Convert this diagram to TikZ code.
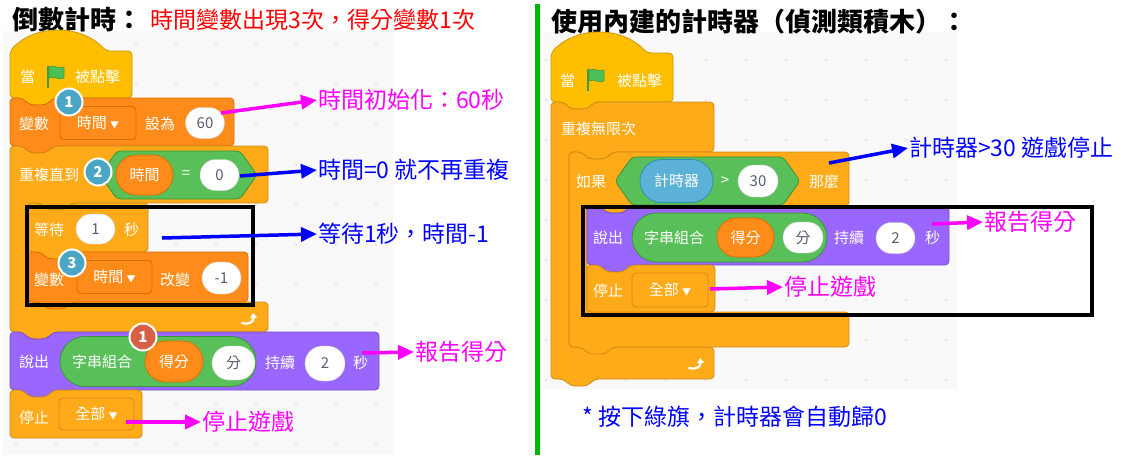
\documentclass[tikz,border=0pt]{standalone}
\usepackage{fontspec}
\setmainfont{Noto Sans CJK TC}
\usetikzlibrary{arrows.meta, shapes.misc, positioning}
\definecolor{evtfill}{HTML}{FFBF00}\definecolor{evtline}{HTML}{CC9900}
\definecolor{varfill}{HTML}{FF8C1A}\definecolor{varline}{HTML}{DB6E00}
\definecolor{ctlfill}{HTML}{FFAB19}\definecolor{ctlline}{HTML}{CF8B17}
\definecolor{lookfill}{HTML}{9966FF}\definecolor{lookline}{HTML}{774DCB}
\definecolor{oprfill}{HTML}{59C059}\definecolor{oprline}{HTML}{389438}
\definecolor{senfill}{HTML}{5CB1D6}\definecolor{senline}{HTML}{2E8EB8}
\definecolor{numtxt}{HTML}{575E75}
\definecolor{bgray}{HTML}{F9F9F9}
\definecolor{dotgray}{HTML}{DDDDDD}
\definecolor{badgeb}{HTML}{4AA6C4}\definecolor{badger}{HTML}{D65F45}
\definecolor{flagfill}{HTML}{4CBF56}\definecolor{flagline}{HTML}{45993D}
\definecolor{mag}{HTML}{FF00FF}\definecolor{blu}{HTML}{0000FF}
\definecolor{divgreen}{HTML}{00B800}
\newcommand\blkfont{\fontsize{15}{16}\selectfont}
\newcommand\annfont{\fontsize{23}{26}\selectfont}
\newcommand\tri{{\fontsize{9}{9}\selectfont ▼}}
% block outlines (x1, y1, x2, y2, style)
\newcommand\stk[5]{\draw[#5] (#1,#2) -- (#1+12,#2) -- (#1+20,#2+7) -- (#1+36,#2+7) -- (#1+44,#2) -- (#3,#2) -- (#3,#4) -- (#1+44,#4) -- (#1+36,#4+7) -- (#1+20,#4+7) -- (#1+12,#4) -- (#1,#4) -- cycle;}
\newcommand\capblk[5]{\draw[#5] (#1,#2) -- (#1+12,#2) -- (#1+20,#2+7) -- (#1+36,#2+7) -- (#1+44,#2) -- (#3,#2) -- (#3,#4) -- (#1,#4) -- cycle;}
\newcommand\hatblk[5]{\draw[#5] (#1,#2+20) .. controls (#1+25,#2-7) and (#1+71,#2-7) .. (#1+96,#2+20) -- (#3,#2+20) -- (#3,#4) -- (#1+44,#4) -- (#1+36,#4+7) -- (#1+20,#4+7) -- (#1+12,#4) -- (#1,#4) -- cycle;}
\newcommand\cblk[7]{\draw[#7] (#1,#2) -- (#1+12,#2) -- (#1+20,#2+7) -- (#1+36,#2+7) -- (#1+44,#2) -- (#3,#2) -- (#3,#4) -- (#1+62,#4) -- (#1+54,#4+7) -- (#1+38,#4+7) -- (#1+30,#4) -- (#1+18,#4) -- (#1+18,#5) -- (#3,#5) -- (#3,#6) -- (#1+44,#6) -- (#1+36,#6+7) -- (#1+20,#6+7) -- (#1+12,#6) -- (#1,#6) -- cycle;}
\newcommand\hexa[5]{\draw[#5] (#1,{(#2+#4)/2}) -- (#1+17,#2) -- (#3-17,#2) -- (#3,{(#2+#4)/2}) -- (#3-17,#4) -- (#1+17,#4) -- cycle;}
\tikzset{
    % block colours
    blk/.style={line width=0.8pt, rounded corners=4pt, line join=round},
    evtblk/.style={blk, fill=evtfill, draw=evtline},
    varblk/.style={blk, fill=varfill, draw=varline},
    ctlblk/.style={blk, fill=ctlfill, draw=ctlline},
    lookblk/.style={blk, fill=lookfill, draw=lookline},
    oprblk/.style={blk, fill=oprfill, draw=oprline},
    % texts and inputs
    lbl/.style={text=white, font=\blkfont, inner sep=0pt, anchor=west},
    num/.style={rounded rectangle, fill=white, draw=black!18, text=numtxt,
           font=\blkfont, inner sep=0pt, minimum width=39pt, minimum height=31pt},
    oval/.style={rounded rectangle, text=white, font=\blkfont, inner sep=0pt,
           line width=0.8pt},
    drop/.style={rectangle, rounded corners=4pt, draw=#1, line width=0.8pt,
           text=white, font=\blkfont, inner sep=0pt, minimum height=33pt},
    badge/.style={circle, fill=#1, draw=white, line width=2pt, text=white,
           font=\fontsize{15}{15}\selectfont\bfseries, minimum size=27pt, inner sep=0pt},
    note/.style={font=\annfont, inner sep=1pt, anchor=west},
    % arrows
    arrm/.style={-{Triangle[length=16pt,width=14pt]}, draw=mag, line width=3.5pt},
    arrb/.style={-{Triangle[length=16pt,width=14pt]}, draw=blu, line width=3.5pt},
    frame/.style={draw=black, line width=4pt},
    greenflag/.pic={
        \fill[flagline] (-9,-11) rectangle (-7,11);
        \draw[fill=flagfill, draw=flagline, line width=0.6pt] (-7,-10) .. controls (-2,-13) and (3,-7) .. (8,-10) -- (8,1) .. controls (3,4) and (-2,-2) .. (-7,1) -- cycle;},
    loopicon/.pic={
        \draw[white, line width=2.2pt, line cap=round, -{Triangle[length=5pt,width=7pt]}] (-8,5) .. controls (0,7) and (4,3) .. (3,-5);}
}
\begin{document}
\begin{tikzpicture}[x=1pt, y=-1pt]
    \useasboundingbox (0,0) rectangle (1132,455);
    \fill[bgray] (3,31) rectangle (393,455);
    \fill[bgray] (543,32) rectangle (957,389);
    % workspace dots
    \foreach \x in {16,56,...,376}
        \foreach \y in {45,85,...,445}
            \fill[dotgray] (\x,\y) circle (1.2pt);
    \foreach \x in {546,586,...,946}
        \foreach \y in {60,100,...,380}
            \fill[dotgray] (\x,\y) circle (1.2pt);
    \draw[divgreen, line width=5pt] (537,4) -- (537,455);
    %
    % titles
    %
    \node[anchor=west, inner sep=0pt, font=\fontsize{26}{28}\selectfont\bfseries] (ttl1) at (12,20) {倒數計時：};
    \node[inner sep=0pt, text=red, font=\fontsize{23}{26}\selectfont, right=8pt of ttl1] (ttl1r) {時間變數出現3次，得分變數1次};
    \node[anchor=west, inner sep=0pt, font=\fontsize{26}{28}\selectfont\bfseries] (ttl2) at (551,22) {使用內建的計時器（偵測類積木）：};
    %
    % left script
    %
    \hatblk{10}{31}{132}{98}{evtblk}
    \node[lbl] (whenL) at (20,77) {當};
    \pic at (56,77) {greenflag};
    \node[lbl] (clickL) at (75,77) {被點擊};
    \stk{10}{98}{234}{146}{varblk}
    \node[lbl] (setL) at (19,124) {變數};
    \node[drop=varline, fill=varfill, minimum width=76pt] (dd1) at (98,123) {時間 \tri};
    \node[lbl] (setto) at (145,124) {設為};
    \node[num] (n60) at (205,123) {60};
    \cblk{10}{146}{268}{203}{302}{332}{ctlblk}
    \node[lbl] (untilL) at (19,175) {重複直到};
    \hexa{100}{151}{257}{199}{oprblk}
    \node[oval, fill=varfill, draw=varline, minimum width=57pt, minimum height=40pt] (tvar) at (144.5,175) {時間};
    \node[lbl, anchor=center] (eq) at (186,175) {=};
    \node[num] (n0) at (219.5,175) {0};
    \stk{28}{203}{148}{252}{ctlblk}
    \node[lbl] (waitL) at (34,230) {等待};
    \node[num, minimum height=30pt] (n1) at (95.5,229) {1};
    \node[lbl] (secL) at (124,230) {秒};
    \stk{28}{252}{248}{302}{varblk}
    \node[lbl] (chgL) at (34,280) {變數};
    \node[drop=varline, fill=varfill, minimum width=75pt] (dd2) at (114.5,277) {時間 \tri};
    \node[lbl] (chgby) at (160,280) {改變};
    \node[num, minimum height=32pt] (nm1) at (221.5,278) {-1};
    \pic at (250,318) {loopicon};
    \stk{10}{332}{379}{390}{lookblk}
    \node[lbl] (sayL) at (19,362) {說出};
    \node[oval, fill=oprfill, draw=oprline, minimum width=196pt, minimum height=50pt] (jn1) at (158,361.5) {};
    \node[lbl] (joinL) at (72,362) {字串組合};
    \node[oval, fill=varfill, draw=varline, minimum width=58pt, minimum height=41pt] (sc1) at (174,361.5) {得分};
    \node[num, minimum width=43pt, minimum height=34pt] (fen1) at (233.5,363) {分};
    \node[lbl] (forL) at (265,363) {持續};
    \node[num, minimum width=40pt, minimum height=35pt] (n2) at (325,363.5) {2};
    \node[lbl] (sec2L) at (353,363) {秒};
    \capblk{10}{390}{142}{438}{ctlblk}
    \node[lbl] (stopL) at (19,418) {停止};
    \node[drop=ctlline, fill=ctlfill, minimum width=75pt, minimum height=32pt] (dd3) at (96.5,414) {全部 \tri};
    \draw[frame] (27,207) rectangle (253,305);
    \node[badge=badgeb] (b1) at (69,102) {1};
    \node[badge=badgeb] (b2) at (98,172) {2};
    \node[badge=badgeb] (b3) at (72,263) {3};
    \node[badge=badger] (rb1) at (143,337) {1};
    %
    % right script
    %
    \hatblk{551}{33}{673}{102}{evtblk}
    \node[lbl] (whenR) at (560,81) {當};
    \pic at (596,80) {greenflag};
    \node[lbl] (clickR) at (617,81) {被點擊};
    \cblk{551}{102}{714}{152}{347}{379}{ctlblk}
    \node[lbl] (foreverR) at (561,129) {重複無限次};
    \pic at (697,363) {loopicon};
    \cblk{569}{152}{849}{206}{312}{347}{ctlblk}
    \node[lbl] (ifR) at (576,182) {如果};
    \hexa{615}{157}{800}{205}{oprblk}
    \node[oval, fill=senfill, draw=senline, minimum width=73pt, minimum height=43pt] (tmr) at (676.5,181) {計時器};
    \node[lbl, anchor=center] (gt) at (725,181) {>};
    \node[num, minimum width=40pt, minimum height=32pt] (n30) at (758,181) {30};
    \node[lbl] (thenR) at (809,182) {那麼};
    \stk{587}{206}{949}{265}{lookblk}
    \node[lbl] (sayR) at (593,238) {說出};
    \node[oval, fill=oprfill, draw=oprline, minimum width=195pt, minimum height=49pt] (jn2) at (729.5,237.5) {};
    \node[lbl] (joinR) at (644,238) {字串組合};
    \node[oval, fill=varfill, draw=varline, minimum width=57pt, minimum height=39pt] (sc2) at (745.5,237.5) {得分};
    \node[num, minimum width=40pt] (fen2) at (803,237.5) {分};
    \node[lbl] (forR) at (834,238) {持續};
    \node[num] (n2r) at (895.5,238) {2};
    \node[lbl] (secR) at (925,238) {秒};
    \capblk{587}{265}{715}{312}{ctlblk}
    \node[lbl] (stopR) at (593,291) {停止};
    \node[drop=ctlline, fill=ctlfill, minimum width=76pt, minimum height=34pt] (dd4) at (670,290) {全部 \tri};
    \draw[frame] (583,207) rectangle (1092,315);
    %
    % notes
    %
    \node[note, text=mag] (t1) at (317,100) {時間初始化：60秒};
    \node[note, text=blu] (t2) at (317,170) {時間=0 就不再重複};
    \node[note, text=blu] (t3) at (317,234) {等待1秒，時間-1};
    \node[note, text=mag] (t4) at (414,352) {報告得分};
    \node[note, text=mag] (t5) at (201,422) {停止遊戲};
    \node[note, text=blu] (t6) at (908,148) {計時器>30 遊戲停止};
    \node[note, text=mag] (t7) at (983,222) {報告得分};
    \node[note, text=mag] (t8) at (783,287) {停止遊戲};
    \node[note, text=blu] (t9) at (581,417) {* 按下綠旗，計時器會自動歸0};
    \coordinate (a1) at (221,113);
    \coordinate (a2) at (240,176);
    \coordinate (a3) at (162,238);
    \coordinate (a4) at (362,353);
    \coordinate (a5) at (126,422);
    \coordinate (a6) at (829,163);
    \coordinate (a7) at (932,224);
    \coordinate (a8) at (710,289);
    \draw[arrm] (a1) -- (t1.west);
    \draw[arrb] (a2) -- (t2.west);
    \draw[arrb] (a3) -- (t3.west);
    \draw[arrm] (a4) -- (t4.west);
    \draw[arrm] (a5) -- (t5.west);
    \draw[arrb] (a6) -- (t6.west);
    \draw[arrm] (a7) -- (t7.west);
    \draw[arrm] (a8) -- (t8.west);
\end{tikzpicture}
\end{document}
